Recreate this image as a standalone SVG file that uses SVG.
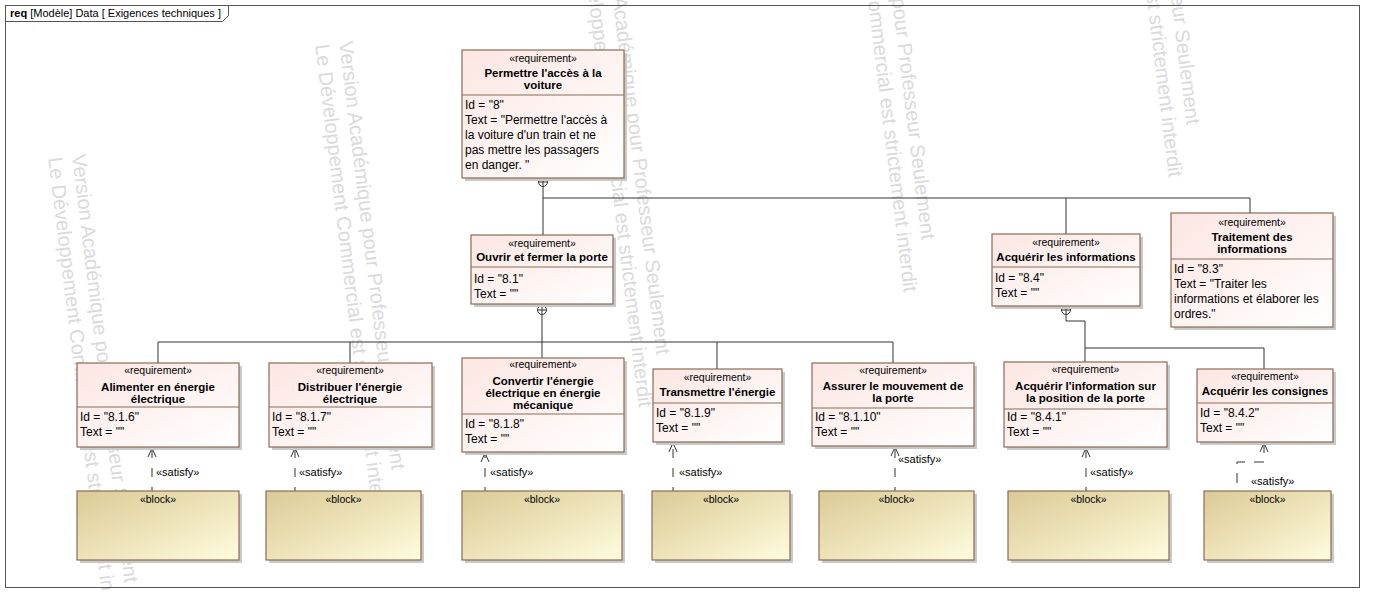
<svg xmlns="http://www.w3.org/2000/svg" width="1373" height="602" viewBox="0 0 1373 602">
<defs>
<linearGradient id="reqGrad" x1="0" y1="0" x2="1" y2="1">
<stop offset="0" stop-color="#fce6e2"/>
<stop offset="1" stop-color="#ffffff"/>
</linearGradient>
<linearGradient id="blkGrad" x1="0" y1="0" x2="1" y2="1">
<stop offset="0" stop-color="#dbca95"/>
<stop offset="1" stop-color="#fffcde"/>
</linearGradient>
<clipPath id="wmClip"><rect x="0" y="0" width="1373" height="591"/></clipPath>
<marker id="open" markerWidth="12" markerHeight="12" refX="9" refY="5" orient="auto" markerUnits="userSpaceOnUse">
<path d="M0,1 L9,5 L0,9" fill="none" stroke="#333" stroke-width="1"/>
</marker>
<style>
text{font-family:"Liberation Sans",Arial,sans-serif;fill:#000}
.wm{font-size:20px;fill:#dadada}
.st{font-size:10.5px;text-anchor:middle}
.nm{font-size:11.5px;font-weight:bold;text-anchor:middle}
.at{font-size:12px}
.sat{font-size:11px}
.req{fill:url(#reqGrad);stroke:#8c6c55;stroke-width:1.2}
.blk{fill:url(#blkGrad);stroke:#8c6c55;stroke-width:1.2}
.sh{fill:#c9c9c9}
.sep{stroke:#8c6c55;stroke-width:1.2}
.ln{fill:none;stroke:#333;stroke-width:1}
.dash{fill:none;stroke:#333;stroke-width:1;stroke-dasharray:9 10;stroke-dashoffset:5;marker-end:url(#open)}
.cp{fill:#fff;stroke:#333;stroke-width:1}
</style>
</defs>
<rect width="1373" height="602" fill="#fff"/>
<g id="watermark" clip-path="url(#wmClip)">
<g transform="translate(72,155) rotate(83)"><text class="wm" x="0" y="0">Version Académique pour Professeur Seulement</text><text class="wm" x="0" y="24">Le Développement Commercial est strictement interdit</text></g>
<g transform="translate(339,42) rotate(83)"><text class="wm" x="0" y="0">Version Académique pour Professeur Seulement</text><text class="wm" x="0" y="24">Le Développement Commercial est strictement interdit</text></g>
<g transform="translate(604,-73) rotate(83)"><text class="wm" x="0" y="0">Version Académique pour Professeur Seulement</text><text class="wm" x="0" y="24">Le Développement Commercial est strictement interdit</text></g>
<g transform="translate(869,-188) rotate(83)"><text class="wm" x="0" y="0">Version Académique pour Professeur Seulement</text><text class="wm" x="0" y="24">Le Développement Commercial est strictement interdit</text></g>
<g transform="translate(1134,-303) rotate(83)"><text class="wm" x="0" y="0">Version Académique pour Professeur Seulement</text><text class="wm" x="0" y="24">Le Développement Commercial est strictement interdit</text></g>
</g>
<g id="frame">
<rect x="5.5" y="5.5" width="1354" height="582" fill="none" stroke="#555" stroke-width="1"/>
<path d="M5.5,21.5 H222.5 L228.5,15.5 V5.5" fill="none" stroke="#555" stroke-width="1"/>
<text x="10" y="17" style="font-size:11px"><tspan font-weight="bold">req</tspan> [Modèle] Data [ Exigences techniques ]</text>
</g>
<g id="connectors">
<path class="ln" d="M543,186 V198 M543,198 H1250 M543,198 V235 M1066,198 V234 M1250,198 V213"/>
<path class="ln" d="M542,314 V342 M158,342 H893 M158,342 V363 M350,342 V363 M542,342 V358 M717,342 V369 M893,342 V363"/>
<path class="ln" d="M1066,314 V321 H1085 V362 M1085,348 H1264 V369"/>
<g class="cp"><circle cx="543" cy="182" r="4.5"/><path d="M538.5,182 H547.5 M543,177.5 V186.5"/></g>
<g class="cp"><circle cx="542" cy="310" r="4.5"/><path d="M537.5,310 H546.5 M542,305.5 V314.5"/></g>
<g class="cp"><circle cx="1066" cy="310" r="4.5"/><path d="M1061.5,310 H1070.5 M1066,305.5 V314.5"/></g>
<path class="dash" d="M152,491 V448"/>
<text class="sat" x="156" y="476">«satisfy»</text>
<path class="dash" d="M295,491 V448"/>
<text class="sat" x="299" y="476">«satisfy»</text>
<path class="dash" d="M485,491 V453"/>
<text class="sat" x="490" y="476">«satisfy»</text>
<path class="dash" d="M673,491 V443"/>
<text class="sat" x="679" y="476">«satisfy»</text>
<path class="dash" d="M895,491 V447"/>
<text class="sat" x="898" y="463">«satisfy»</text>
<path class="dash" d="M1086,491 V448"/>
<text class="sat" x="1090" y="476">«satisfy»</text>
<path class="dash" style="stroke-dasharray:10 9;stroke-dashoffset:11" d="M1237,491 V462 H1264 V443"/>
<text class="sat" x="1251" y="485">«satisfy»</text>
</g>
<g id="n8">
<rect class="sh" x="465" y="53" width="162" height="128"/>
<rect class="req" x="462" y="50" width="162" height="128"/>
<line class="sep" x1="462" y1="95" x2="624" y2="95"/>
<text class="st" x="543" y="62">«requirement»</text>
<text class="nm" x="543" y="77">Permettre l'accès à la</text>
<text class="nm" x="543" y="89">voiture</text>
<text class="at" x="465" y="109">Id = "8"</text>
<text class="at" x="465" y="124">Text = "Permettre l'accès à</text>
<text class="at" x="465" y="139">la voiture d'un train et ne</text>
<text class="at" x="465" y="154">pas mettre les passagers</text>
<text class="at" x="465" y="169">en danger. "</text>
</g>
<g id="n8_1">
<rect class="sh" x="474" y="238" width="142" height="69"/>
<rect class="req" x="471" y="235" width="142" height="69"/>
<line class="sep" x1="471" y1="267" x2="613" y2="267"/>
<text class="st" x="542" y="247">«requirement»</text>
<text class="nm" x="542" y="261">Ouvrir et fermer la porte</text>
<text class="at" x="474" y="283">Id = "8.1"</text>
<text class="at" x="474" y="298">Text = ""</text>
</g>
<g id="n8_4">
<rect class="sh" x="995" y="237" width="148" height="72"/>
<rect class="req" x="992" y="234" width="148" height="72"/>
<line class="sep" x1="992" y1="267" x2="1140" y2="267"/>
<text class="st" x="1066" y="246">«requirement»</text>
<text class="nm" x="1066" y="261">Acquérir les informations</text>
<text class="at" x="995" y="282">Id = "8.4"</text>
<text class="at" x="995" y="297">Text = ""</text>
</g>
<g id="n8_3">
<rect class="sh" x="1174" y="216" width="162" height="114"/>
<rect class="req" x="1171" y="213" width="162" height="114"/>
<line class="sep" x1="1171" y1="259" x2="1333" y2="259"/>
<text class="st" x="1252" y="226">«requirement»</text>
<text class="nm" x="1252" y="241">Traitement des</text>
<text class="nm" x="1252" y="253">informations</text>
<text class="at" x="1174" y="273">Id = "8.3"</text>
<text class="at" x="1174" y="288">Text = "Traiter les</text>
<text class="at" x="1174" y="303">informations et élaborer les</text>
<text class="at" x="1174" y="318">ordres."</text>
</g>
<g id="n8_1_6">
<rect class="sh" x="80" y="366" width="162" height="84"/>
<rect class="req" x="77" y="363" width="162" height="84"/>
<line class="sep" x1="77" y1="407" x2="239" y2="407"/>
<text class="st" x="158" y="374">«requirement»</text>
<text class="nm" x="158" y="391">Alimenter en énergie</text>
<text class="nm" x="158" y="403">électrique</text>
<text class="at" x="80" y="421">Id = "8.1.6"</text>
<text class="at" x="80" y="436">Text = ""</text>
</g>
<g id="n8_1_7">
<rect class="sh" x="272" y="366" width="163" height="84"/>
<rect class="req" x="269" y="363" width="163" height="84"/>
<line class="sep" x1="269" y1="407" x2="432" y2="407"/>
<text class="st" x="350" y="374">«requirement»</text>
<text class="nm" x="350" y="391">Distribuer l'énergie</text>
<text class="nm" x="350" y="403">électrique</text>
<text class="at" x="272" y="421">Id = "8.1.7"</text>
<text class="at" x="272" y="436">Text = ""</text>
</g>
<g id="n8_1_8">
<rect class="sh" x="465" y="361" width="162" height="94"/>
<rect class="req" x="462" y="358" width="162" height="94"/>
<line class="sep" x1="462" y1="414" x2="624" y2="414"/>
<text class="st" x="543" y="368">«requirement»</text>
<text class="nm" x="543" y="385">Convertir l'énergie</text>
<text class="nm" x="543" y="397">électrique en énergie</text>
<text class="nm" x="543" y="409">mécanique</text>
<text class="at" x="465" y="428">Id = "8.1.8"</text>
<text class="at" x="465" y="443">Text = ""</text>
</g>
<g id="n8_1_9">
<rect class="sh" x="656" y="372" width="129" height="73"/>
<rect class="req" x="653" y="369" width="129" height="73"/>
<line class="sep" x1="653" y1="403" x2="782" y2="403"/>
<text class="st" x="717.5" y="381">«requirement»</text>
<text class="nm" x="717.5" y="396">Transmettre l'énergie</text>
<text class="at" x="656" y="417">Id = "8.1.9"</text>
<text class="at" x="656" y="432">Text = ""</text>
</g>
<g id="n8_1_10">
<rect class="sh" x="815" y="366" width="162" height="83"/>
<rect class="req" x="812" y="363" width="162" height="83"/>
<line class="sep" x1="812" y1="408" x2="974" y2="408"/>
<text class="st" x="893" y="374">«requirement»</text>
<text class="nm" x="893" y="390">Assurer le mouvement de</text>
<text class="nm" x="893" y="402">la porte</text>
<text class="at" x="815" y="421">Id = "8.1.10"</text>
<text class="at" x="815" y="436">Text = ""</text>
</g>
<g id="n8_4_1">
<rect class="sh" x="1007" y="365" width="163" height="85"/>
<rect class="req" x="1004" y="362" width="163" height="85"/>
<line class="sep" x1="1004" y1="409" x2="1167" y2="409"/>
<text class="st" x="1085.5" y="373">«requirement»</text>
<text class="nm" x="1085.5" y="390">Acquérir l'information sur</text>
<text class="nm" x="1085.5" y="402">la position de la porte</text>
<text class="at" x="1007" y="421">Id = "8.4.1"</text>
<text class="at" x="1007" y="436">Text = ""</text>
</g>
<g id="n8_4_2">
<rect class="sh" x="1200" y="372" width="136" height="73"/>
<rect class="req" x="1197" y="369" width="136" height="73"/>
<line class="sep" x1="1197" y1="403" x2="1333" y2="403"/>
<text class="st" x="1265" y="380">«requirement»</text>
<text class="nm" x="1265" y="395">Acquérir les consignes</text>
<text class="at" x="1200" y="417">Id = "8.4.2"</text>
<text class="at" x="1200" y="432">Text = ""</text>
</g>
<g id="b1"><rect class="sh" x="80" y="494" width="162" height="69"/><rect class="blk" x="77" y="491" width="162" height="69"/><text class="st" x="158" y="503">«block»</text></g>
<g id="b2"><rect class="sh" x="269" y="494" width="155" height="69"/><rect class="blk" x="266" y="491" width="155" height="69"/><text class="st" x="343.5" y="503">«block»</text></g>
<g id="b3"><rect class="sh" x="465" y="494" width="160" height="69"/><rect class="blk" x="462" y="491" width="160" height="69"/><text class="st" x="542" y="503">«block»</text></g>
<g id="b4"><rect class="sh" x="655" y="494" width="138" height="69"/><rect class="blk" x="652" y="491" width="138" height="69"/><text class="st" x="721" y="503">«block»</text></g>
<g id="b5"><rect class="sh" x="822" y="494" width="155" height="69"/><rect class="blk" x="819" y="491" width="155" height="69"/><text class="st" x="896.5" y="503">«block»</text></g>
<g id="b6"><rect class="sh" x="1011" y="494" width="161" height="69"/><rect class="blk" x="1008" y="491" width="161" height="69"/><text class="st" x="1088.5" y="503">«block»</text></g>
<g id="b7"><rect class="sh" x="1207" y="494" width="127" height="69"/><rect class="blk" x="1204" y="491" width="127" height="69"/><text class="st" x="1267.5" y="503">«block»</text></g>
</svg>
